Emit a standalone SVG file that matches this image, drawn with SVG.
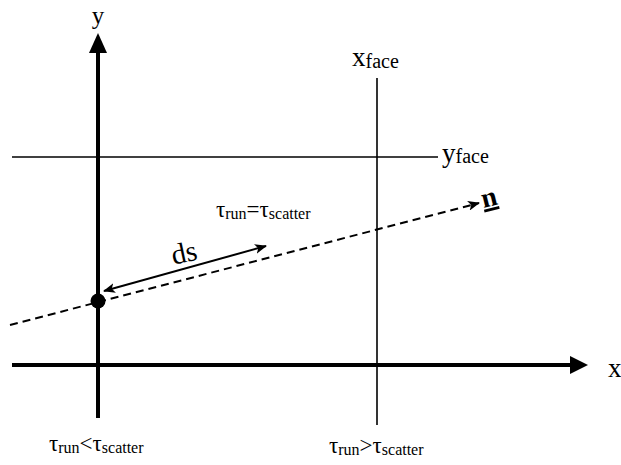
<svg xmlns="http://www.w3.org/2000/svg" width="621" height="465" viewBox="0 0 621 465">
<style>
text{font-family:"Liberation Serif","Times New Roman",serif;fill:#000}
.big{font-size:27px}
.tau{font-size:23px}
.sub{font-size:16px}
.face{font-size:20px}
.thin{stroke:#000;stroke-width:1.6;fill:none}
.axis{stroke:#000;stroke-width:4;fill:none}
</style>
<defs>
<marker id="barb" viewBox="0 0 12 10" refX="11" refY="5" markerWidth="12" markerHeight="10" markerUnits="userSpaceOnUse" orient="auto-start-reverse">
<path d="M0,0 L12,5 L0,10 L3,5 Z" fill="#000"/>
</marker>
</defs>
<rect width="621" height="465" fill="#fff"/>
<g id="connectors">
<line class="thin" x1="12" y1="157" x2="438" y2="157"/>
<line class="thin" x1="377" y1="78" x2="377" y2="425"/>
<line class="axis" x1="98" y1="418" x2="98" y2="50"/>
<polygon points="98,33 89,53 107,53" fill="#000"/>
<line class="axis" x1="12" y1="365" x2="572" y2="365"/>
<polygon points="588,365 570,356 570,374" fill="#000"/>
<line x1="10" y1="325" x2="479" y2="203" stroke="#000" stroke-width="2" stroke-dasharray="8,5" marker-end="url(#barb)"/>
<line x1="104" y1="291" x2="266" y2="246" stroke="#000" stroke-width="2" marker-start="url(#barb)" marker-end="url(#barb)"/>
</g>
<g id="point">
<circle cx="98" cy="301" r="7.5" fill="#000"/>
</g>
<g id="label-y"><text x="98" y="24" font-size="25" text-anchor="middle">y</text></g>
<g id="label-x"><text class="big" x="608" y="377">x</text></g>
<g id="label-xface"><text x="352" y="66"><tspan class="big">x</tspan><tspan class="face" dy="2">face</tspan></text></g>
<g id="label-yface"><text x="442" y="162"><tspan class="big" font-size="30">y</tspan><tspan class="face" dy="1">face</tspan></text></g>
<g id="label-ds"><text x="186" y="262" font-size="29" text-anchor="middle" transform="rotate(-12 186 262)">ds</text></g>
<g id="label-n"><text x="491" y="206" text-anchor="middle" font-size="28" font-weight="bold" text-decoration="underline" transform="rotate(-14 491 206)">n</text></g>
<g id="label-eq"><text x="216" y="217"><tspan class="tau">τ</tspan><tspan class="sub" dy="2">run</tspan><tspan class="tau" dy="-2">=τ</tspan><tspan class="sub" dy="2">scatter</tspan></text></g>
<g id="label-lt"><text x="49" y="451"><tspan class="tau">τ</tspan><tspan class="sub" dy="2">run</tspan><tspan class="tau" dy="-2">&lt;τ</tspan><tspan class="sub" dy="2">scatter</tspan></text></g>
<g id="label-gt"><text x="329" y="453"><tspan class="tau">τ</tspan><tspan class="sub" dy="2">run</tspan><tspan class="tau" dy="-2">&gt;τ</tspan><tspan class="sub" dy="2">scatter</tspan></text></g>
</svg>
